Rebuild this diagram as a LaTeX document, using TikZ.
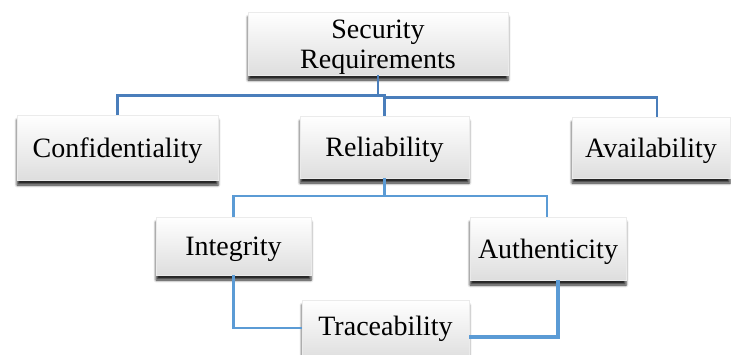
\documentclass[tikz,border=0pt]{standalone}
\usepackage{fontspec}
\setmainfont{Liberation Serif}
\usetikzlibrary{shadows.blur}

\definecolor{busblue}{HTML}{4A7EBB}
\definecolor{linkblue}{HTML}{5B9BD5}

\tikzset{
  reqbox/.style={rectangle, draw=black!8, line width=0.4pt,
    top color=white, middle color=white, bottom color=black!13,
    blur shadow={shadow xshift=0pt, shadow yshift=-5pt,
                 shadow blur radius=2.5pt, shadow opacity=85},
    font=\fontsize{28}{30}\selectfont,
    text height=19.6pt, text depth=0pt, inner sep=0pt},
  bus/.style={draw=busblue, line width=2.6pt},
  link/.style={draw=linkblue, line width=2.6pt},
  thicklink/.style={draw=linkblue, line width=4.2pt},
}

\begin{document}
\begin{tikzpicture}[x=1pt, y=-1pt]
  \useasboundingbox (0,0) rectangle (731,354);
  \clip (0,0) rectangle (731,354);

  % boxes
  \node[reqbox, minimum width=260pt, minimum height=63pt, align=center,
        text height=49.6pt, text depth=0.6pt] (sec) at (378,43.5) {Security\\Requirements};
  \node[reqbox, minimum width=201pt, minimum height=65pt] (conf) at (117.5,147.5) {Confidentiality};
  \node[reqbox, minimum width=169pt, minimum height=62pt] (rel) at (384.5,147) {Reliability};
  \node[reqbox, minimum width=158pt, minimum height=61pt] (avail) at (651,147.5) {Availability};
  \node[reqbox, minimum width=155pt, minimum height=58pt] (int) at (233.5,246) {Integrity};
  \node[reqbox, minimum width=156pt, minimum height=63pt] (auth) at (548,248.5) {Authenticity};
  \node[reqbox, minimum width=167pt, minimum height=60pt, text depth=9.6pt] (trace) at (385.5,330) {Traceability};

  % bus levels
  \coordinate (busA) at (0,95.5);
  \coordinate (busB) at (0,97.5);
  \coordinate (busC) at (0,196);

  % top level connectors
  \draw[bus] (sec.south) -- (sec.south |- busA) -- (rel.north |- busA) -- (rel.north);
  \draw[bus] (sec.south |- busA) -| (conf.north);
  \draw[bus] (rel.north |- busB) -| ([xshift=6pt]avail.north);

  % second level connectors
  \draw[link] (rel.south) -- (rel.south |- busC);
  \draw[link] (rel.south |- busC) -| (int.north);
  \draw[link] (rel.south |- busC) -| ([xshift=-1pt]auth.north);

  % links to traceability
  \draw[link] (int.south) |- ([yshift=2pt]trace.west);
  \draw[thicklink] ([xshift=10pt]auth.south) |- ([yshift=-7pt]trace.east);
\end{tikzpicture}
\end{document}
